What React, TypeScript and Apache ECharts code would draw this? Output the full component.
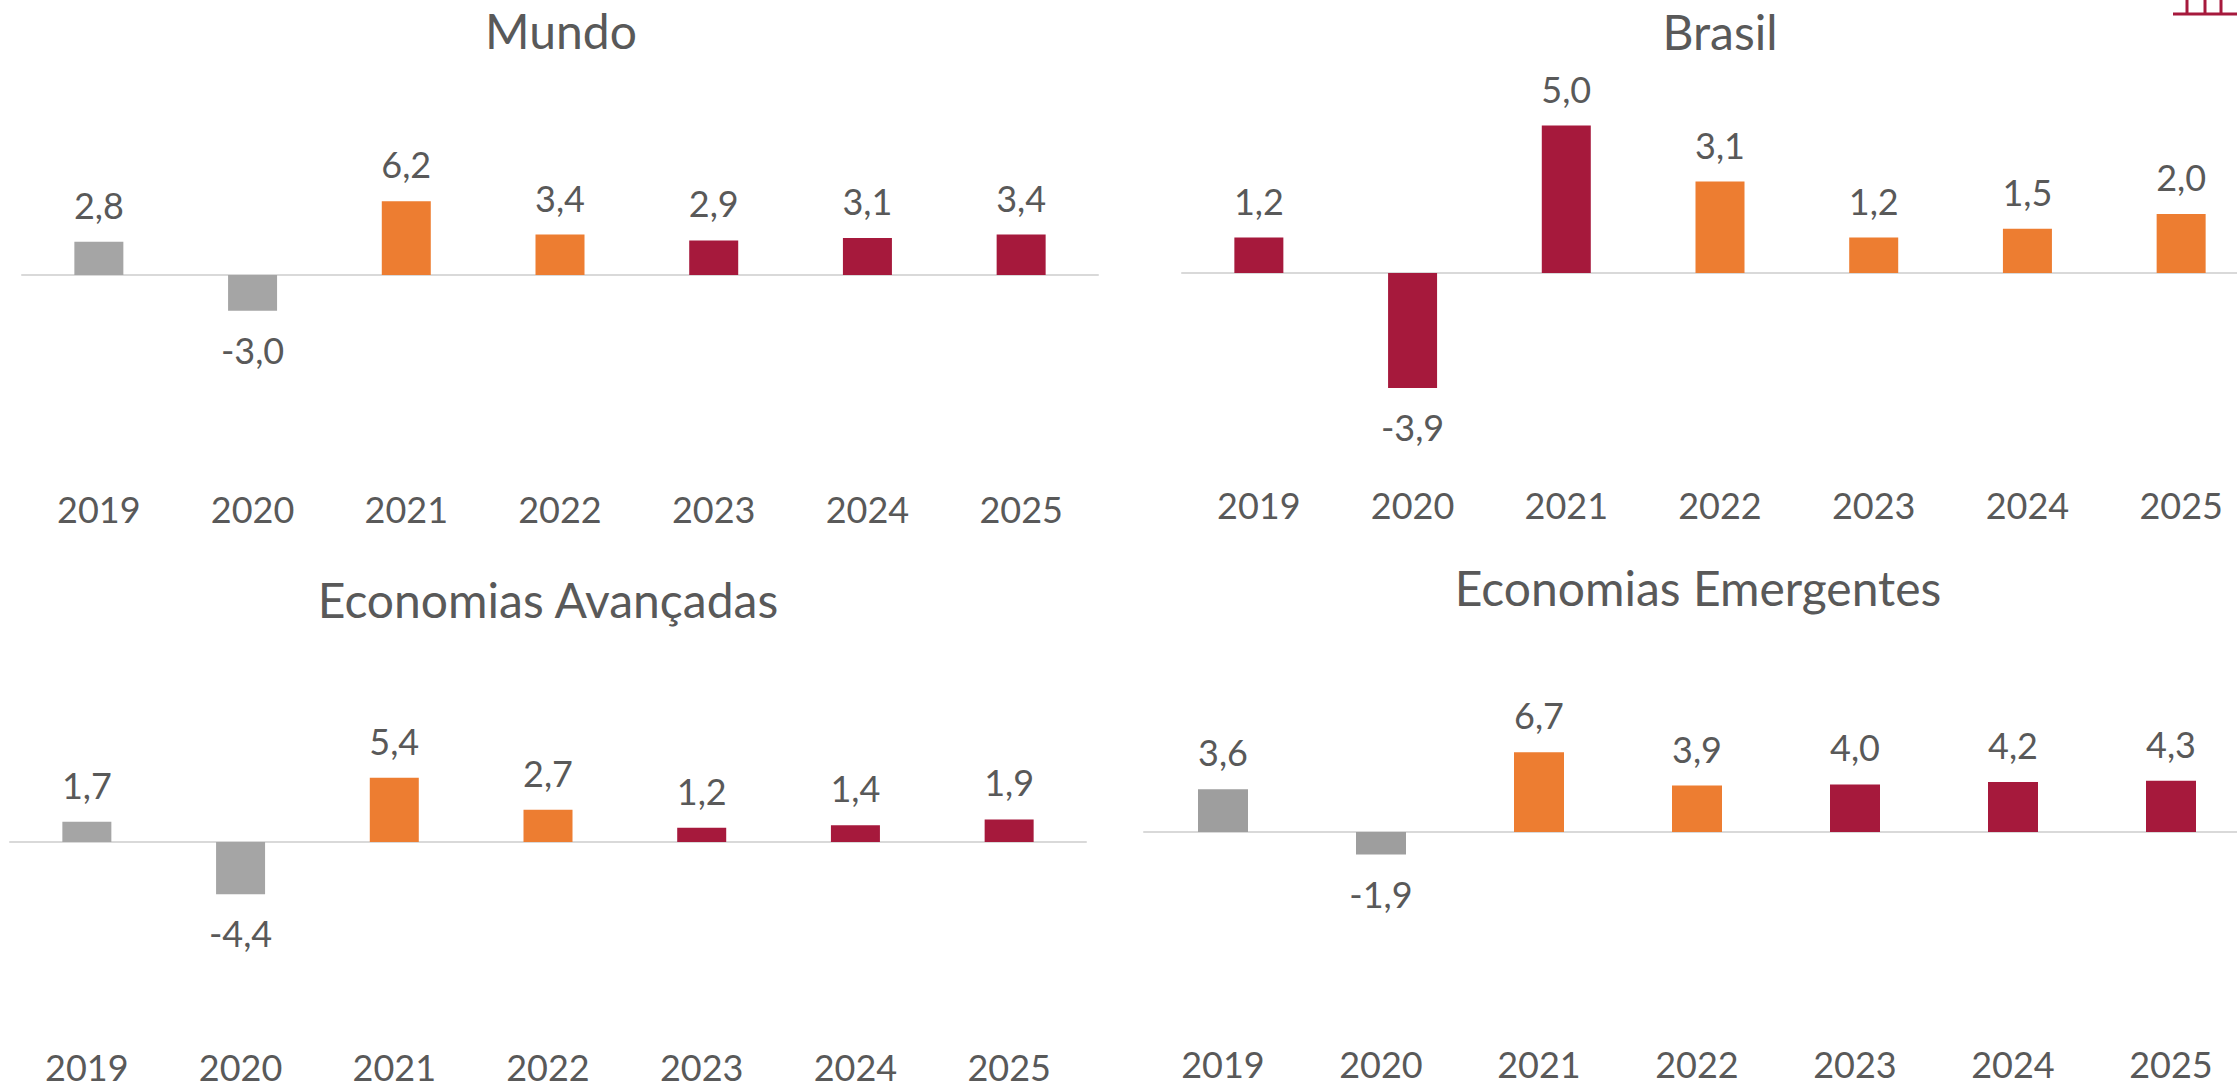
import React, { useEffect, useRef } from "react";
import * as echarts from "echarts";

const years = ["2019", "2020", "2021", "2022", "2023", "2024", "2025"];

const mundoValues = [2.8, -3.0, 6.2, 3.4, 2.9, 3.1, 3.4];
const brasilValues = [1.2, -3.9, 5.0, 3.1, 1.2, 1.5, 2.0];
const avancadasValues = [1.7, -4.4, 5.4, 2.7, 1.2, 1.4, 1.9];
const emergentesValues = [3.6, -1.9, 6.7, 3.9, 4.0, 4.2, 4.3];

const GREY = "#A5A5A5";
const GREY_DARK = "#9E9E9E";
const ORANGE = "#ED7D31";
const CRIMSON = "#A6193C";
const TEXT = "#595959";
const FONT = "Lato";

const mundoColors = [GREY, GREY, ORANGE, ORANGE, CRIMSON, CRIMSON, CRIMSON];
const brasilColors = [CRIMSON, CRIMSON, CRIMSON, ORANGE, ORANGE, ORANGE, ORANGE];
const avancadasColors = [GREY, GREY, ORANGE, ORANGE, CRIMSON, CRIMSON, CRIMSON];
const emergentesColors = [GREY_DARK, GREY_DARK, ORANGE, ORANGE, CRIMSON, CRIMSON, CRIMSON];

const panels = [
  { title: "Mundo", values: mundoValues, colors: mundoColors, left: 22, width: 1076, zeroY: 275, pxPerUnit: 11.9, min: -18, max: 8, labelY: 509, titleX: 561, titleY: 30, barWidth: 49 },
  { title: "Brasil", values: brasilValues, colors: brasilColors, left: 1182, width: 1076, zeroY: 273, pxPerUnit: 29.5, min: -7, max: 6, labelY: 505, titleX: 1720, titleY: 31, barWidth: 49 },
  { title: "Economias Avançadas", values: avancadasValues, colors: avancadasColors, left: 10, width: 1076, zeroY: 842, pxPerUnit: 11.9, min: -18, max: 8, labelY: 1067, titleX: 548, titleY: 599, barWidth: 49 },
  { title: "Economias Emergentes", values: emergentesValues, colors: emergentesColors, left: 1144, width: 1106, zeroY: 832, pxPerUnit: 11.9, min: -18, max: 8, labelY: 1064, titleX: 1698, titleY: 587, barWidth: 50 },
];

const logoBar = { x1: 2173, x2: 2237, y: 14 };
const logoPosts = [2187, 2205, 2221];

const fmt = (v: number) => v.toFixed(1).replace(".", ",");

export default function App() {
  const ref = useRef<HTMLDivElement>(null);
  useEffect(() => {
    document.body.style.margin = "0";
    const chart = echarts.init(ref.current!, undefined, { renderer: "svg" });
    const grid: any[] = [];
    const xAxis: any[] = [];
    const yAxis: any[] = [];
    const series: any[] = [];
    const graphic: any[] = [];
    panels.forEach((p, i) => {
      const top = p.zeroY - p.max * p.pxPerUnit;
      const height = (p.max - p.min) * p.pxPerUnit;
      const bottomY = top + height;
      grid.push({ left: p.left, top, width: p.width, height, containLabel: false, outerBoundsMode: "none" });
      xAxis.push({
        type: "category", gridIndex: i, data: years,
        axisLine: { onZero: true, lineStyle: { color: "#D9D9D9", width: 2 } },
        axisTick: { show: false }, axisLabel: { show: false },
      });
      xAxis.push({
        type: "category", gridIndex: i, data: years, position: "bottom",
        axisLine: { show: false, onZero: false }, axisTick: { show: false },
        axisLabel: {
          show: true, color: TEXT, fontFamily: FONT, fontSize: 36, lineHeight: 32,
          margin: p.labelY - bottomY - 16, interval: 0,
        },
      });
      yAxis.push({
        type: "value", gridIndex: i, min: p.min, max: p.max,
        axisLine: { show: false }, axisTick: { show: false },
        axisLabel: { show: false }, splitLine: { show: false },
      });
      series.push({
        type: "bar", xAxisIndex: i * 2, yAxisIndex: i, barWidth: p.barWidth,
        data: p.values.map((v, k) => ({
          value: v,
          itemStyle: { color: p.colors[k] },
          label: {
            show: true, position: v < 0 ? "bottom" : "top", distance: v < 0 ? 21 : 19,
            formatter: fmt(v), color: TEXT, fontFamily: FONT, fontSize: 36,
          },
        })),
      });
      graphic.push({
        type: "text", x: p.titleX, y: p.titleY,
        style: { text: p.title, fill: TEXT, font: `48px ${FONT}`, textAlign: "center", textVerticalAlign: "middle" },
      });
    });
    graphic.push({
      type: "line", shape: { x1: logoBar.x1, y1: logoBar.y, x2: logoBar.x2, y2: logoBar.y },
      style: { stroke: CRIMSON, lineWidth: 3 },
    });
    logoPosts.forEach((x) => graphic.push({
      type: "line", shape: { x1: x, y1: 0, x2: x, y2: logoBar.y },
      style: { stroke: CRIMSON, lineWidth: 3 },
    }));
    chart.setOption({ animation: false, backgroundColor: "#fff", grid, xAxis, yAxis, series, graphic });
    return () => chart.dispose();
  }, []);
  return <div ref={ref} style={{ width: 2237, height: 1088, position: "absolute", left: 0, top: 0 }} />;
}
